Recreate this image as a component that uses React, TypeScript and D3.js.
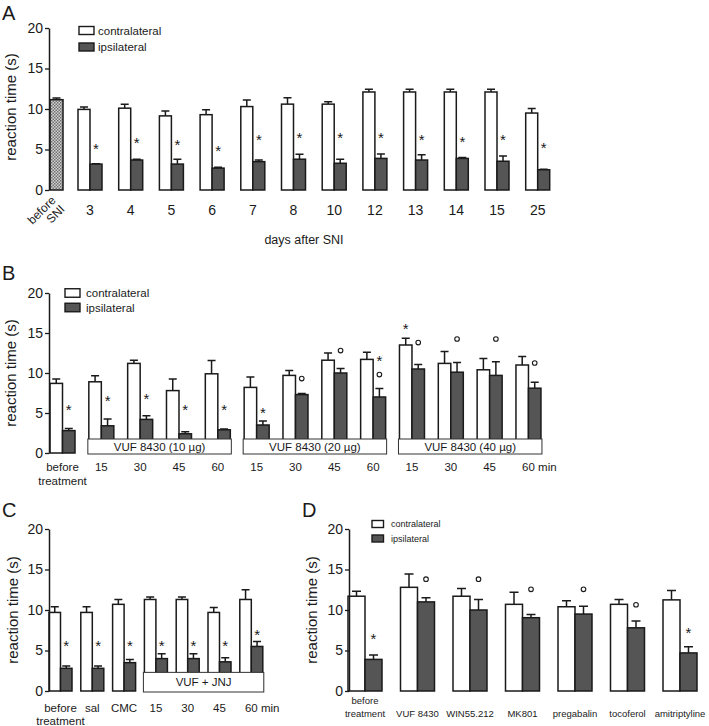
import React, { useEffect, useRef } from 'react';
import * as d3 from 'd3';

// ---- panel A: days after SNI ----
const daysA = ['3', '4', '5', '6', '7', '8', '10', '12', '13', '14', '15', '25'];
const beforeSNI = [11.15];
const beforeSNIErr = [0.2];
const contraA = [9.95, 10.1, 9.15, 9.3, 10.3, 10.6, 10.6, 12.1, 12.1, 12.1, 12.1, 9.5];
const contraAErr = [0.3, 0.5, 0.6, 0.6, 0.8, 0.8, 0.3, 0.35, 0.35, 0.35, 0.35, 0.55];
const ipsiA = [3.2, 3.7, 3.2, 2.7, 3.5, 3.8, 3.3, 3.9, 3.7, 3.9, 3.55, 2.5];
const ipsiAErr = [0.05, 0.1, 0.6, 0.1, 0.2, 0.6, 0.5, 0.55, 0.65, 0.1, 0.65, 0.05];
const starA = [5.5, 6.2, 6.0, 5.3, 6.6, 6.8, 6.8, 6.8, 6.6, 6.4, 6.6, 5.6];

// ---- panel B: VUF 8430 doses ----
const catsB = ['before\ntreatment', '15', '30', '45', '60', '15', '30', '45', '60', '15', '30', '45', '60 min'];
const contraB = [8.7, 8.9, 11.2, 7.8, 9.9, 8.2, 9.7, 11.6, 11.7, 13.5, 11.2, 10.4, 11.0];
const contraBErr = [0.55, 0.75, 0.4, 1.45, 1.65, 1.3, 0.6, 0.9, 0.9, 0.85, 1.5, 1.4, 1.05];
const ipsiB = [2.8, 3.4, 4.2, 2.4, 2.9, 3.5, 7.3, 10.0, 7.0, 10.5, 10.1, 9.7, 8.1];
const ipsiBErr = [0.25, 0.85, 0.45, 0.25, 0.1, 0.5, 0.15, 0.55, 1.05, 0.55, 1.2, 1.7, 0.75];
const groupsB = [
  { label: 'VUF 8430 (10 µg)', from: 1, to: 4 },
  { label: 'VUF 8430 (20 µg)', from: 5, to: 8 },
  { label: 'VUF 8430 (40 µg)', from: 9, to: 12 },
];
// [category index, series (0 contra / 1 ipsi), symbol, level]
const marksB = [
  [0, 1, '*', 5.8], [1, 1, '*', 6.9], [2, 1, '*', 7.2], [3, 1, '*', 5.8], [4, 1, '*', 5.8],
  [5, 1, '*', 5.5], [6, 1, 'o', 9.3], [7, 1, 'o', 12.8], [8, 1, '*', 12.0], [8, 1, 'o', 9.8],
  [9, 0, '*', 15.9], [9, 1, 'o', 13.8], [10, 1, 'o', 14.25], [11, 1, 'o', 14.25], [12, 1, 'o', 11.25],
];

// ---- panel C: VUF + JNJ ----
const catsC = ['before\ntreatment', 'sal', 'CMC', '15', '30', '45', '60 min'];
const contraC = [9.7, 9.7, 10.7, 11.3, 11.3, 9.7, 11.3];
const contraCErr = [0.7, 0.7, 0.6, 0.3, 0.3, 0.6, 1.2];
const ipsiC = [2.8, 2.8, 3.5, 4.0, 4.0, 3.6, 5.5];
const ipsiCErr = [0.3, 0.3, 0.4, 0.6, 0.6, 0.5, 0.6];
const starC = [6.0, 6.0, 6.0, 6.0, 6.0, 6.0, 7.3];
const groupsC = [{ label: 'VUF + JNJ', from: 3, to: 6 }];

// ---- panel D: reference drugs ----
const catsD = ['before\ntreatment', 'VUF 8430', 'WIN55.212', 'MK801', 'pregabalin', 'tocoferol', 'amitriptyline'];
const contraD = [11.7, 12.8, 11.7, 10.7, 10.4, 10.7, 11.25];
const contraDErr = [0.6, 1.65, 0.95, 1.5, 0.75, 0.6, 1.15];
const ipsiD = [3.9, 11.0, 10.0, 9.05, 9.5, 7.8, 4.7];
const ipsiDErr = [0.55, 0.5, 1.3, 0.4, 0.95, 0.85, 0.75];
const marksD = [
  [0, 1, '*', 6.9], [1, 1, 'o', 13.8], [2, 1, 'o', 13.8], [3, 1, 'o', 12.55],
  [4, 1, 'o', 12.55], [5, 1, 'o', 10.65], [6, 1, '*', 7.6],
];

const yTicks = [0, 5, 10, 15, 20];
const FONT = '"Liberation Sans", Arial, Helvetica, sans-serif';
const DARK = '#555555';
const INK = '#1a1a1a';

const drawPanel = (svg, c) => {
  const g = svg.append('g').attr('font-family', FONT).attr('fill', INK);
  const y = d3.scaleLinear().domain([0, 20]).range([c.yBottom, c.yTop]);
  const n = c.cats.length;
  const x = d3.scaleBand()
    .domain(d3.range(n))
    .range([c.x0, c.x0 + (n - 1) * c.step + c.bw])
    .paddingInner(1 - c.bw / c.step)
    .paddingOuter(0);
  const half = x.bandwidth() / 2;
  const cap = c.cap || 8;

  const bars = [];
  c.contra.forEach((v, i) => bars.push({ i, s: 0, v, e: c.contraErr[i] }));
  c.ipsi.forEach((v, i) => bars.push({ i, s: 1, v, e: c.ipsiErr[i] }));

  g.selectAll('path.err').data(bars).join('path')
    .attr('d', d => {
      const cx = x(d.i) + d.s * half + half / 2;
      return `M${cx},${y(d.v)}V${y(d.v + d.e)}M${cx - cap / 2},${y(d.v + d.e)}H${cx + cap / 2}`;
    })
    .attr('stroke', INK).attr('stroke-width', 1.5).attr('fill', 'none');

  g.selectAll('rect.bar').data(bars).join('rect')
    .attr('x', d => x(d.i) + d.s * half)
    .attr('y', d => y(d.v))
    .attr('width', half)
    .attr('height', d => y(0) - y(d.v))
    .attr('fill', d => (d.s ? DARK : '#fff'))
    .attr('stroke', INK).attr('stroke-width', 1.5);

  // single hatched baseline bar (panel A)
  if (c.before) {
    const bx = c.axisX + 1;
    const bw = half + 1;
    g.append('path')
      .attr('d', `M${bx + bw / 2},${y(c.before.v)}V${y(c.before.v + c.before.e)}M${bx + bw / 2 - cap / 2},${y(c.before.v + c.before.e)}H${bx + bw / 2 + cap / 2}`)
      .attr('stroke', INK).attr('stroke-width', 1.5);
    g.append('rect')
      .attr('x', bx).attr('y', y(c.before.v)).attr('width', bw).attr('height', y(0) - y(c.before.v))
      .attr('fill', 'url(#dots)').attr('stroke', INK).attr('stroke-width', 1.5);
    g.append('text')
      .attr('transform', `translate(${bx + bw / 2},${y(0) + 11}) rotate(-45)`)
      .attr('text-anchor', 'end').attr('font-size', 12)
      .call(t => {
        t.append('tspan').attr('x', 0).attr('dy', 0).text('before');
        t.append('tspan').attr('x', 0).attr('dy', '1.05em').text('SNI');
      });
  }

  // treatment boxes drawn over the bar bottoms
  (c.groups || []).forEach(gr => {
    const x1 = x(gr.from) - 1;
    const x2 = x(gr.to) + x.bandwidth() + 1;
    const top = y(c.boxTop);
    const bot = y(0) + 1;
    g.append('rect')
      .attr('x', x1).attr('y', top).attr('width', x2 - x1).attr('height', bot - top)
      .attr('fill', '#fff').attr('stroke', '#333').attr('stroke-width', 1);
    g.append('text')
      .attr('x', (x1 + x2) / 2).attr('y', (top + bot) / 2 + 4.2)
      .attr('text-anchor', 'middle').attr('font-size', 11.5).text(gr.label);
  });

  // y axis
  const ax = g.append('g')
    .attr('transform', `translate(${c.axisX},0)`)
    .call(d3.axisLeft(y).tickValues(yTicks).tickSize(4).tickSizeOuter(0).tickPadding(2));
  ax.select('.domain').attr('stroke', INK).attr('stroke-width', 1.5);
  ax.selectAll('.tick line').attr('stroke', INK).attr('stroke-width', 1.3);
  ax.selectAll('.tick text').attr('font-size', 14).attr('font-family', FONT).attr('fill', INK);

  // significance marks
  c.marks.forEach(([i, s, sym, lvl]) => {
    const cx = x(i) + s * half + half / 2;
    if (sym === '*') {
      g.append('text').attr('x', cx).attr('y', y(lvl) + 8.5)
        .attr('text-anchor', 'middle').attr('font-size', 15).text('*');
    } else {
      g.append('circle').attr('cx', cx).attr('cy', y(lvl)).attr('r', 2.3)
        .attr('fill', '#fff').attr('stroke', INK).attr('stroke-width', 1.1);
    }
  });

  // x labels
  c.cats.forEach((lab, i) => {
    const cx = x(i) + x.bandwidth() / 2;
    const lines = lab.split('\n');
    if (lines.length === 1 && / min$/.test(lab)) {
      const num = lab.split(' ')[0];
      g.append('text').attr('x', cx - (num.length * 0.556 * c.labelFs) / 2)
        .attr('y', c.labelY).attr('font-size', c.labelFs).text(lab);
      return;
    }
    const y0 = lines.length === 1 && c.singleOnSecond ? c.labelY + c.lineH : c.labelY;
    lines.forEach((ln, k) => {
      g.append('text').attr('x', cx).attr('y', y0 + k * c.lineH)
        .attr('text-anchor', 'middle').attr('font-size', c.labelFs).text(ln);
    });
  });

  // y title and panel letter
  g.append('text')
    .attr('transform', `translate(${c.ylabel[0]},${c.ylabel[1]}) rotate(-90)`)
    .attr('text-anchor', 'middle').attr('font-size', 15).text('reaction time (s)');
  g.append('text').attr('x', c.letter[1]).attr('y', c.letter[2])
    .attr('font-size', 20).text(c.letter[0]);

  if (c.xTitle) {
    g.append('text').attr('x', c.xTitle[1]).attr('y', c.xTitle[2])
      .attr('text-anchor', 'middle').attr('font-size', 12.5).text(c.xTitle[0]);
  }

  if (c.legend) {
    const L = c.legend;
    [['contralateral', '#fff', L.y1], ['ipsilateral', DARK, L.y2]].forEach(([name, fill, cy]) => {
      g.append('rect').attr('x', L.x).attr('y', cy - L.h / 2).attr('width', L.w).attr('height', L.h)
        .attr('fill', fill).attr('stroke', INK).attr('stroke-width', 1.4);
      g.append('text').attr('x', L.tx).attr('y', cy + L.fs * 0.36)
        .attr('font-size', L.fs).text(name);
    });
  }
};

const App = () => {
  const svgRef = useRef(null);

  useEffect(() => {
    const svg = d3.select(svgRef.current);
    svg.selectAll('*').remove();

    const pat = svg.append('defs').append('pattern')
      .attr('id', 'dots').attr('width', 3).attr('height', 3).attr('patternUnits', 'userSpaceOnUse');
    pat.append('rect').attr('width', 3).attr('height', 3).attr('fill', '#d2d2d2');
    pat.append('rect').attr('width', 1.5).attr('height', 1.5).attr('fill', '#707070');
    pat.append('rect').attr('x', 1.5).attr('y', 1.5).attr('width', 1.5).attr('height', 1.5).attr('fill', '#707070');

    drawPanel(svg, {
      letter: ['A', 2, 20], axisX: 49, yTop: 28, yBottom: 190,
      x0: 78, step: 40.7, bw: 24,
      cats: daysA, contra: contraA, contraErr: contraAErr, ipsi: ipsiA, ipsiErr: ipsiAErr,
      marks: starA.map((v, i) => [i, 1, '*', v]),
      before: { v: beforeSNI[0], e: beforeSNIErr[0] },
      labelY: 215, lineH: 14, labelFs: 14,
      ylabel: [16, 107], xTitle: ['days after SNI', 304, 244],
      legend: { x: 79, w: 15, h: 8, y1: 30.5, y2: 47, tx: 98, fs: 11.5 },
    });

    drawPanel(svg, {
      letter: ['B', 2, 280], axisX: 49, yTop: 293, yBottom: 453,
      x0: 50, step: 38.83, bw: 25,
      cats: catsB, contra: contraB, contraErr: contraBErr, ipsi: ipsiB, ipsiErr: ipsiBErr,
      marks: marksB, groups: groupsB, boxTop: 1.75,
      labelY: 471, lineH: 14, labelFs: 11.5,
      ylabel: [16, 373],
      legend: { x: 65, w: 15, h: 8.5, y1: 293, y2: 307.5, tx: 86, fs: 11.5 },
    });

    drawPanel(svg, {
      letter: ['C', 2, 517], axisX: 49, yTop: 529, yBottom: 691,
      x0: 49, step: 31.8, bw: 23,
      cats: catsC, contra: contraC, contraErr: contraCErr, ipsi: ipsiC, ipsiErr: ipsiCErr,
      marks: starC.map((v, i) => [i, 1, '*', v]), groups: groupsC, boxTop: 2.3,
      labelY: 712, lineH: 13, labelFs: 11.5,
      ylabel: [18, 610],
    });

    drawPanel(svg, {
      letter: ['D', 302, 517], axisX: 349, yTop: 529, yBottom: 691,
      x0: 348, step: 52.5, bw: 34, cap: 9,
      cats: catsD, contra: contraD, contraErr: contraDErr, ipsi: ipsiD, ipsiErr: ipsiDErr,
      marks: marksD,
      labelY: 704, lineH: 13, labelFs: 9.5, singleOnSecond: true,
      ylabel: [317, 610],
      legend: { x: 372, w: 11.5, h: 7, y1: 524, y2: 538.5, tx: 391, fs: 9 },
    });
  }, []);

  return (
    <svg
      ref={svgRef}
      width={709}
      height={726}
      style={{ position: 'absolute', left: 0, top: 0, background: '#fff' }}
    />
  );
};

export default App;
